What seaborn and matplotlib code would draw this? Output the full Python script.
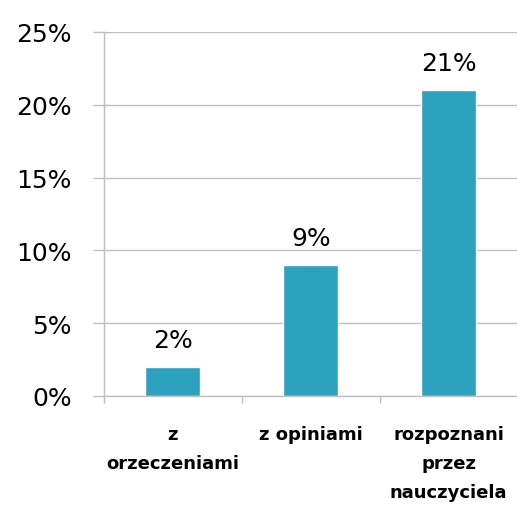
import matplotlib
matplotlib.use("Agg")
import matplotlib.pyplot as plt
import seaborn as sns
import pandas as pd
from matplotlib.ticker import FuncFormatter, FixedLocator

# --------------------------------
# data
# --------------------------------
categories = ["z\norzeczeniami", "z opiniami", "rozpoznani\nprzez\nnauczyciela"]
values = [2, 9, 21]
y_ticks = [0, 5, 10, 15, 20, 25]

df = pd.DataFrame({"kategoria": categories, "procent": values})

sns.set_style("white")
plt.rcParams["font.family"] = ["DejaVu Sans"]
plt.rcParams["text.color"] = "black"
plt.rcParams["xtick.labelcolor"] = "black"
plt.rcParams["ytick.labelcolor"] = "black"

fig = plt.figure(figsize=(5.17, 5.10), dpi=100)
ax = fig.add_axes([0.201, 0.2216, 0.80, 0.7137])

bar_color = "#2CA2BF"
sns.barplot(x="kategoria", y="procent", data=df, color=bar_color, width=0.4,
            saturation=1, ax=ax)

# value labels above bars
for cont in ax.containers:
    ax.bar_label(cont, labels=[f"{v}%" for v in values], padding=11,
                 fontsize=18, color="black")

# y axis
ax.set_ylim(0, 25)
ax.yaxis.set_major_locator(FixedLocator(y_ticks))
ax.yaxis.set_major_formatter(FuncFormatter(lambda v, p: f"{int(v)}%"))
ax.grid(axis="y", color="#BFBFBF", linewidth=1)
ax.set_axisbelow(True)
ax.tick_params(axis="y", which="major", length=8, width=1, color="#BFBFBF",
               pad=15, labelsize=18, left=True, labelcolor="black")

# x axis: labels at centers, tick marks between categories
ax.set_xlim(-0.5, 2.5)
ax.xaxis.set_minor_locator(FixedLocator([-0.5, 0.5, 1.5, 2.5]))
ax.tick_params(axis="x", which="major", length=0, pad=21, labelsize=13,
               labelcolor="black")
ax.tick_params(axis="x", which="minor", length=5, width=1, color="#BFBFBF",
               bottom=True)
for lbl in ax.get_xticklabels():
    lbl.set_fontweight("bold")
    lbl.set_linespacing(1.78)

ax.set_xlabel("")
ax.set_ylabel("")

for side in ["top", "right"]:
    ax.spines[side].set_visible(False)
for side in ["left", "bottom"]:
    ax.spines[side].set_color("#BFBFBF")
    ax.spines[side].set_linewidth(1)

fig.savefig("out.png", dpi=100)
